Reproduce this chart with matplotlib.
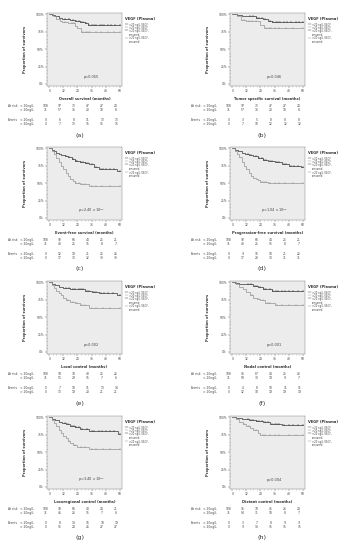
import numpy as np
import matplotlib
matplotlib.use("Agg")
import matplotlib.pyplot as plt
from matplotlib.ticker import MultipleLocator

W, H = 347, 550

# ---------------- data ----------------
panel_labels = ["(a)", "(b)", "(c)", "(d)", "(e)", "(f)", "(g)", "(h)"]
xlabels = ["Overall survival (months)", "Tumor specific survival (months)",
           "Event-free survival (months)", "Progression-free survival (months)",
           "Local control (months)", "Nodal control (months)",
           "Locoregional control (months)", "Distant control (months)"]
pvalues = ["p=0.055", "p=0.046", r"p=2.40 x 10$^{-5}$", r"p=1.04 x 10$^{-5}$",
           "p=0.002", "p=0.001", r"p=3.40 x 10$^{-5}$", "p=0.004"]
time_ticks = [0, 12, 24, 36, 48, 60]

# low-VEGF (<20 ng/L) curves: event times / survival after event
lo_t = [[2, 5, 8, 11, 14, 18, 22, 26, 30, 33],
        [4, 8, 14, 20, 26, 30, 34],
        [2, 4, 6, 8, 10, 13, 16, 19, 22, 26, 30, 34, 38, 42, 58],
        [2, 5, 8, 11, 14, 18, 22, 26, 30, 36, 42, 48, 59],
        [2, 5, 8, 12, 18, 24, 30, 36, 42, 58],
        [2, 6, 12, 18, 22, 26, 30, 34],
        [2, 5, 8, 11, 14, 18, 22, 26, 30, 34, 40, 59],
        [3, 8, 14, 20, 26, 32, 42]]
lo_s = [[.99, .97, .95, .94, .93, .92, .90, .89, .87, .85],
        [.99, .98, .97, .95, .93, .91, .89],
        [.98, .96, .94, .92, .90, .89, .87, .85, .82, .80, .79, .77, .73, .71, .67],
        [.98, .96, .94, .92, .91, .89, .86, .84, .82, .80, .77, .75, .73],
        [.98, .96, .94, .92, .91, .90, .88, .86, .85, .82],
        [.99, .98, .97, .95, .93, .91, .90, .88],
        [.98, .96, .94, .92, .90, .88, .86, .84, .83, .81, .80, .76],
        [.99, .98, .96, .95, .93, .91, .89]]
# high-VEGF (>20 ng/L) curves
hi_t = [[3, 6, 9, 11, 16, 22, 24, 27],
        [4, 7, 12, 24, 27],
        [2, 4, 6, 8, 10, 12, 14, 16, 18, 20, 22, 26, 34],
        [2, 4, 6, 8, 10, 12, 14, 16, 18, 20, 22, 24, 30],
        [2, 4, 6, 8, 10, 12, 14, 18, 22, 26, 34],
        [3, 6, 9, 12, 15, 18, 21, 24, 28, 36],
        [2, 4, 6, 8, 10, 12, 14, 16, 18, 20, 24, 34],
        [3, 6, 9, 12, 15, 18, 22, 24]]
hi_s = [[.97, .94, .91, .89, .87, .84, .80, .74],
        [.97, .92, .90, .85, .80],
        [.96, .92, .86, .80, .74, .70, .65, .60, .56, .53, .50, .49, .46],
        [.96, .92, .87, .81, .75, .70, .65, .61, .58, .56, .54, .52, .50],
        [.96, .92, .88, .85, .82, .78, .75, .72, .70, .67, .63],
        [.97, .94, .90, .86, .82, .78, .76, .74, .71, .67],
        [.96, .92, .87, .82, .78, .73, .70, .66, .63, .60, .57, .54],
        [.97, .94, .91, .88, .85, .82, .78, .74]]
# censoring times
lo_cens = [[13, 17, 20, 23, 25, 27, 29, 31, 34, 36, 38, 40, 43, 45, 47, 50, 53, 56, 60],
           [15, 18, 21, 23, 25, 28, 32, 35, 37, 39, 41, 44, 47, 50, 54, 57, 60],
           [14, 17, 20, 23, 24, 27, 29, 31, 33, 36, 40, 44, 46, 48, 52, 55, 60],
           [13, 16, 20, 23, 25, 27, 29, 32, 34, 38, 40, 44, 46, 50, 53, 56, 60],
           [14, 17, 20, 22, 25, 27, 29, 32, 34, 38, 40, 44, 47, 50, 54, 60],
           [13, 16, 19, 21, 24, 27, 29, 32, 35, 37, 39, 42, 45, 48, 52, 56, 60],
           [13, 16, 19, 21, 23, 25, 28, 32, 36, 38, 42, 45, 48, 52, 55, 60],
           [13, 16, 18, 21, 23, 25, 28, 30, 34, 36, 38, 40, 44, 48, 52, 56, 60]]
hi_cens = [[13, 19, 21, 29, 31, 33, 35, 40, 44, 50, 55, 60],
           [10, 14, 17, 20, 29, 31, 33, 36, 40, 46, 52, 60],
           [23, 25, 28, 30, 36, 40, 45, 52, 60],
           [25, 27, 29, 32, 36, 40, 45, 52, 60],
           [16, 20, 24, 28, 30, 36, 40, 46, 52, 60],
           [17, 23, 26, 30, 32, 38, 42, 48, 54, 60],
           [17, 22, 27, 30, 36, 40, 46, 52, 60],
           [10, 14, 20, 26, 28, 32, 36, 40, 48, 54, 60]]

risk_lo = [[108, 97, 73, 47, 27, 24], [108, 97, 73, 47, 27, 24],
           [108, 92, 66, 44, 25, 21], [108, 92, 66, 44, 25, 21],
           [108, 94, 70, 48, 25, 22], [108, 95, 67, 44, 25, 23],
           [108, 93, 66, 44, 24, 21], [108, 95, 70, 45, 26, 24]]
risk_hi = [[71, 57, 36, 20, 10, 8], [71, 57, 36, 20, 10, 8],
           [71, 48, 25, 15, 8, 7], [71, 48, 25, 15, 8, 7],
           [71, 51, 29, 15, 7, 6], [71, 50, 30, 19, 9, 7],
           [71, 46, 26, 15, 7, 6], [71, 54, 31, 18, 8, 7]]
ev_lo = [[0, 6, 8, 11, 13, 13], [0, 3, 5, 8, 8, 8],
         [0, 12, 19, 21, 25, 26], [0, 9, 16, 18, 21, 22],
         [0, 7, 10, 11, 13, 14], [0, 4, 8, 10, 11, 11],
         [0, 8, 14, 16, 18, 19], [0, 3, 7, 8, 9, 9]]
ev_hi = [[0, 7, 13, 15, 15, 15], [0, 7, 10, 12, 12, 12],
         [0, 17, 30, 32, 33, 33], [0, 17, 28, 30, 31, 31],
         [0, 13, 19, 20, 21, 21], [0, 12, 18, 19, 19, 19],
         [0, 15, 24, 26, 27, 27], [0, 9, 14, 15, 15, 15]]

legend_title = "VEGF (Plasma)"
legend_items = ["<20 ng/L VEGF", ">20 ng/L VEGF", "<20 ng/L VEGF-\ncensored", ">20 ng/L VEGF-\ncensored"]

# ---------------- drawing ----------------
fig = plt.figure(figsize=(W / 100, H / 100), dpi=100)
plt.rcParams['font.family'] = ['DejaVu Sans']

col_x = [47, 230]
row_top = [13, 147, 281, 416]
ax_w, ax_h = 75, 73
TXT = "#444444"
FS = 2.2


def fx(px):
    return px / W


def fy(py):
    return 1 - py / H


def step_at(t, s, x):
    v = 1.0
    for ti, si in zip(t, s):
        if ti <= x:
            v = si
    return v


for i in range(8):
    r, c = divmod(i, 2)
    x0 = col_x[c]
    y0 = row_top[r]
    ax = fig.add_axes([fx(x0), fy(y0 + ax_h), ax_w / W, ax_h / H])
    ax.set_facecolor("#ececec")
    for sp in ax.spines.values():
        sp.set_linewidth(0.3)
        sp.set_color("#777777")
    ax.set_xlim(-2, 62)
    ax.set_ylim(-0.03, 1.02)
    ax.set_xticks(time_ticks)
    ax.xaxis.set_minor_locator(MultipleLocator(3))
    ax.set_yticks([0, .25, .5, .75, 1.0])
    ax.yaxis.set_minor_locator(MultipleLocator(0.05))
    ax.set_yticklabels(["0%", "25%", "50%", "75%", "100%"])
    ax.tick_params(labelsize=FS, length=1.2, width=0.3, pad=1, colors="#555555", labelcolor=TXT)
    ax.tick_params(which="minor", length=0.6, width=0.3, colors="#777777")
    ax.set_xlabel(xlabels[i], fontsize=2.6, fontweight="bold", labelpad=3, color="#333333")
    ax.set_ylabel("Proportion of survivors", fontsize=2.6, fontweight="bold", labelpad=6, color="#333333")

    for t, s, cens, col, lw in [(lo_t[i], lo_s[i], lo_cens[i], "#222222", 0.45),
                                (hi_t[i], hi_s[i], hi_cens[i], "#8a8a8a", 0.45)]:
        xs = [0] + list(t) + [60]
        ys = [1.0] + list(s) + [s[-1]]
        ax.step(xs, ys, where="post", color=col, lw=lw)
        cy = [step_at(t, s, x) for x in cens]
        ax.plot(cens, cy, linestyle="none", marker="|", markersize=1.4, mew=0.35, color=col)

    ax.text(36, 0.1, pvalues[i], fontsize=2.5, color=TXT, ha="center", va="center")

    # legend
    lx = x0 + ax_w + 3
    fig.text(fx(lx), fy(y0 + 6), legend_title, fontsize=2.6, fontweight="bold", color="#333333", va="center")
    ly = [y0 + 10, y0 + 13, y0 + 16, y0 + 23.5]
    for k, (lab, yy) in enumerate(zip(legend_items, ly)):
        fig.text(fx(lx + 4), fy(yy), lab, fontsize=1.8, color=TXT, va="top", linespacing=0.9)
        col = "#222222" if k % 2 == 0 else "#8a8a8a"
        fig.add_artist(plt.Line2D([fx(lx), fx(lx + 3)], [fy(yy + 1), fy(yy + 1)], lw=0.3, color=col))

    # at-risk table
    base = y0 + ax_h
    lab_x = x0 - 39
    rows = [(20, "At risk", "< 20ng/L", risk_lo[i]), (24, "", "> 20ng/L", risk_hi[i]),
            (34, "Events", "< 20ng/L", ev_lo[i]), (38, "", "> 20ng/L", ev_hi[i])]
    trans = matplotlib.transforms.blended_transform_factory(ax.transData, fig.transFigure)
    for dy, head, grp, vals in rows:
        if head:
            fig.text(fx(lab_x), fy(base + dy), head, fontsize=FS, color=TXT, va="center")
        fig.text(fx(lab_x + 12), fy(base + dy), grp, fontsize=FS, color=TXT, va="center")
        for tx, v in zip(time_ticks, vals):
            ax.text(tx - 3 + 0.0, fy(base + dy), str(v), transform=trans, fontsize=FS,
                    color=TXT, ha="center", va="center")

    fig.text(fx(x0 + ax_w / 2 - 5), fy(base + 49), panel_labels[i], fontsize=4.6,
             color="#333333", ha="center", va="center")

fig.savefig("out.png", dpi=100, facecolor="white")
